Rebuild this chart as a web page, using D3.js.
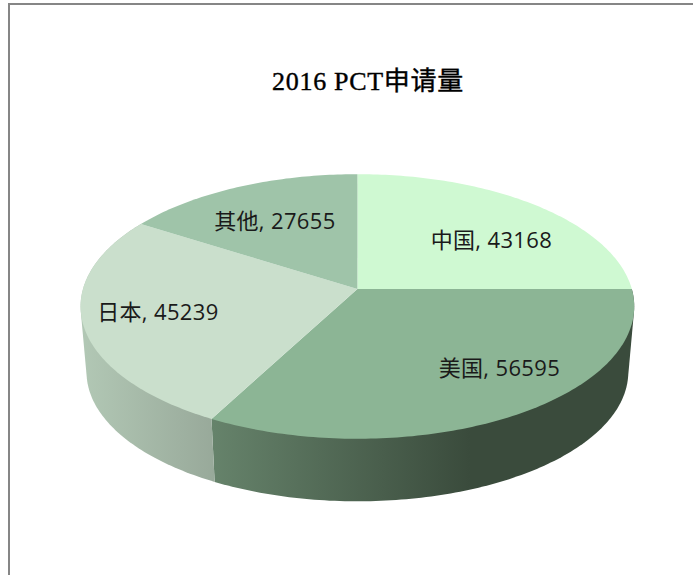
<!DOCTYPE html>
<html>
<head>
<meta charset="utf-8">
<script src="https://cdnjs.cloudflare.com/ajax/libs/d3/7.8.5/d3.min.js"></script>
<style>
html, body { margin: 0; padding: 0; background: #fff; }
svg { display: block; }
</style>
</head>
<body>
<div id="vis"></div>
<script>
var categories = ["中国", "美国", "日本", "其他"];
var values = [43168, 56595, 45239, 27655];
var topColors = ["#cff9d2", "#8cb595", "#cadfcc", "#9fc4a9"];
// only the slices facing the viewer show a side wall
var sideColors = [null, ["#66836b", "#3a4b3c"], ["#b2c8b5", "#98a99a"], null];
var chartTitle = "2016 PCT申请量";

var width = 693, height = 575;

// perspective of the pie: the centre of the circle is not the centre of the ellipse
var tilt = 0.132;
var top_ = {cx: 357.4, cy: 289, rx: 274.4, ry: 130};
var bottom = {cx: 357.4, cy: 355, rx: 268.5, ry: 127};

// label centres, relative to the apex of the pie
var labelOffset = [[134, -49], [142, 79], [-199.5, 23], [-82.5, -68]];

function project(face, angle, r) {
	var X = r * Math.sin(angle), Y = -r * Math.cos(angle);
	var w = 1 - tilt * Y;
	return [face.cx + face.rx * X / w, face.cy + face.ry * Y / w];
}

function arcPoints(face, a0, a1) {
	var n = Math.max(2, Math.ceil((a1 - a0) * 60));
	return d3.range(n + 1).map(function(i) {
		return project(face, a0 + (a1 - a0) * i / n, 1);
	});
}

var svg = d3.select("#vis").append("svg")
	.attr("width", width)
	.attr("height", height);

var defs = svg.append("defs");
var line = d3.line();

var slices = d3.pie().sort(null)(values);
slices.forEach(function(d, i) { d.index = i; });
var frontSlices = slices.filter(function(d) { return sideColors[d.index]; });

// chart frame, open on the right and the bottom
svg.append("path")
	.attr("d", "M9,575V4H693")
	.attr("fill", "none")
	.attr("stroke", "#868686")
	.attr("stroke-width", 2);

svg.append("text")
	.attr("x", 368)
	.attr("y", 90)
	.attr("text-anchor", "middle")
	.style("font-family", "'Liberation Serif', 'Noto Sans CJK SC'")
	.style("font-size", "26px")
	.style("letter-spacing", "0.7px")
	.attr("fill", "#000")
	.attr("stroke", "#000")
	.attr("stroke-width", 0.4)
	.text(chartTitle);

// gradients run across the page, one per slice
frontSlices.forEach(function(d) {
	var a = arcPoints(top_, d.startAngle, d.endAngle).concat(arcPoints(bottom, d.startAngle, d.endAngle));
	var grad = defs.append("linearGradient")
		.attr("id", "side" + d.index)
		.attr("gradientUnits", "userSpaceOnUse")
		.attr("x1", d3.min(a, function(p) { return p[0]; }))
		.attr("x2", d.index == 1 ? 470 : d3.max(a, function(p) { return p[0]; }))
		.attr("y1", 0)
		.attr("y2", 0);
	grad.append("stop").attr("offset", "0%").attr("stop-color", sideColors[d.index][0]);
	grad.append("stop").attr("offset", "100%").attr("stop-color", sideColors[d.index][1]);
});

// side wall first, the top face covers the part behind it
svg.append("g").selectAll("path")
	.data(frontSlices)
	.join("path")
	.attr("d", function(d) {
		var pts = arcPoints(top_, d.startAngle, d.endAngle).concat(arcPoints(bottom, d.startAngle, d.endAngle));
		return line(d3.polygonHull(pts)) + "Z";
	})
	.attr("fill", function(d) { return "url(#side" + d.index + ")"; });

svg.append("g").selectAll("path")
	.data(slices)
	.join("path")
	.attr("d", function(d) {
		return line([project(top_, 0, 0)].concat(arcPoints(top_, d.startAngle, d.endAngle))) + "Z";
	})
	.attr("fill", function(d) { return topColors[d.index]; });

svg.append("g").selectAll("text")
	.data(slices)
	.join("text")
	.attr("x", function(d) { return top_.cx + labelOffset[d.index][0]; })
	.attr("y", function(d) { return top_.cy + labelOffset[d.index][1]; })
	.attr("dy", "0.36em")
	.attr("text-anchor", "middle")
	.style("font-family", "'Open Sans', 'Noto Sans CJK SC'")
	.style("font-size", "22px")
	.style("letter-spacing", "0.35px")
	.attr("fill", "#1a1a1a")
	.text(function(d) { return categories[d.index] + ", " + d.value; });
</script>
</body>
</html>
